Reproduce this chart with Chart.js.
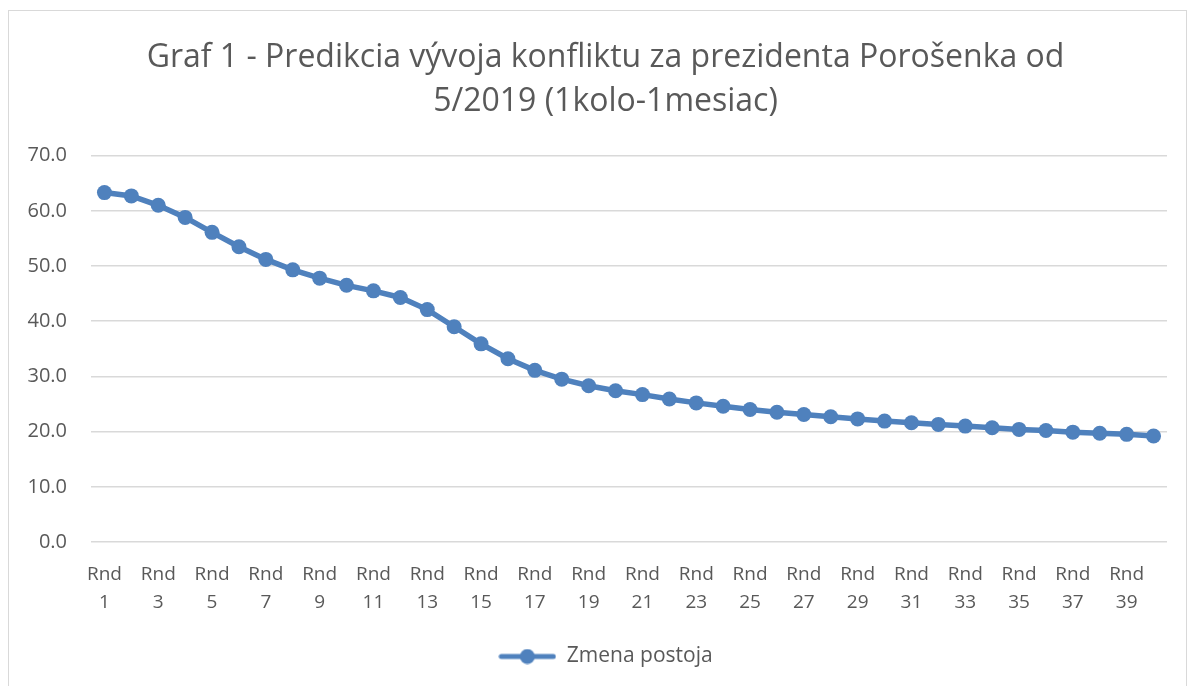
<!DOCTYPE html>
<html>
<head>
<meta charset="utf-8">
<script src="https://cdn.jsdelivr.net/npm/chart.js@4/dist/chart.umd.min.js"></script>
<style>
    html, body { margin: 0; padding: 0; background: #fff; }
    #wrap { position: relative; width: 1190px; height: 686px; overflow: hidden; }
    #frame { position: absolute; left: 8px; top: 10px; width: 1179px; height: 700px; border: 1px solid #d9d9d9; box-sizing: border-box; }
    #chart { position: absolute; left: 0; top: 0; }
</style>
</head>
<body>
<div id="wrap">
    <div id="frame"></div>
    <canvas id="chart" width="1190" height="686"></canvas>
</div>
<script>
const titleLines = ['Graf 1 - Predikcia vývoja konfliktu za prezidenta Porošenka od', '5/2019 (1kolo-1mesiac)'];
const seriesName = 'Zmena postoja';

const categories = [
    'Rnd 1', 'Rnd 2', 'Rnd 3', 'Rnd 4', 'Rnd 5', 'Rnd 6', 'Rnd 7', 'Rnd 8', 'Rnd 9', 'Rnd 10',
    'Rnd 11', 'Rnd 12', 'Rnd 13', 'Rnd 14', 'Rnd 15', 'Rnd 16', 'Rnd 17', 'Rnd 18', 'Rnd 19', 'Rnd 20',
    'Rnd 21', 'Rnd 22', 'Rnd 23', 'Rnd 24', 'Rnd 25', 'Rnd 26', 'Rnd 27', 'Rnd 28', 'Rnd 29', 'Rnd 30',
    'Rnd 31', 'Rnd 32', 'Rnd 33', 'Rnd 34', 'Rnd 35', 'Rnd 36', 'Rnd 37', 'Rnd 38', 'Rnd 39', 'Rnd 40'
];

const values = [
    63.3, 62.7, 61.0, 58.8, 56.1, 53.5, 51.2, 49.3, 47.8, 46.5,
    45.5, 44.3, 42.1, 39.0, 35.9, 33.2, 31.1, 29.5, 28.3, 27.4,
    26.7, 25.9, 25.2, 24.6, 24.0, 23.5, 23.1, 22.7, 22.3, 21.9,
    21.6, 21.3, 21.0, 20.7, 20.4, 20.2, 19.9, 19.7, 19.5, 19.2
];

const yTicks = [0, 10, 20, 30, 40, 50, 60, 70];

const blue = '#4f81bd';
const textColor = '#595959';
const fontFamily = '"Open Sans", sans-serif';

// legend marker: line with a dot in the middle
const marker = document.createElement('canvas');
marker.width = 58;
marker.height = 16;
(function () {
    const m = marker.getContext('2d');
    m.strokeStyle = blue;
    m.lineWidth = 5;
    m.lineCap = 'round';
    m.beginPath();
    m.moveTo(3, 8);
    m.lineTo(55, 8);
    m.stroke();
    m.fillStyle = blue;
    m.beginPath();
    m.arc(29, 8, 7.5, 0, Math.PI * 2);
    m.fill();
})();

// the original frame runs past the right edge, so title and legend sit a bit right of centre
const shiftTitleLegend = {
    id: 'shiftTitleLegend',
    afterLayout: function (chart) {
        const dx = 22;
        [chart.titleBlock, chart.legend].forEach(function (box) {
            if (box) {
                box.left += dx;
                box.right += dx;
            }
        });
    }
};

const ctx = document.getElementById('chart').getContext('2d');
new Chart(ctx, {
    type: 'line',
    data: {
        labels: categories,
        datasets: [{
            label: seriesName,
            data: values,
            borderColor: blue,
            backgroundColor: blue,
            borderWidth: 5.5,
            pointRadius: 7.5,
            pointBorderWidth: 0,
            pointBackgroundColor: blue,
            tension: 0,
            fill: false
        }]
    },
    plugins: [shiftTitleLegend],
    options: {
        responsive: false,
        animation: false,
        layout: { padding: { left: 0, right: 23, top: 0, bottom: 9 } },
        plugins: {
            tooltip: { enabled: false },
            title: {
                display: true,
                text: titleLines,
                color: textColor,
                font: { family: fontFamily, size: 32, weight: 'normal', lineHeight: 1.4 },
                padding: { top: 35, bottom: 31 }
            },
            legend: {
                display: true,
                position: 'bottom',
                labels: {
                    usePointStyle: true,
                    pointStyle: marker,
                    pointStyleWidth: 58,
                    boxHeight: 16,
                    color: textColor,
                    font: { family: fontFamily, size: 21 },
                    padding: 14
                }
            }
        },
        scales: {
            x: {
                offset: true,
                grid: { display: false },
                border: { display: false },
                ticks: {
                    autoSkip: false,
                    maxRotation: 0,
                    minRotation: 0,
                    color: textColor,
                    font: { family: fontFamily, size: 19, lineHeight: 1.45 },
                    padding: 11,
                    callback: function (value, index) {
                        if (index % 2 !== 0) return null;
                        return categories[index].split(' ');
                    }
                },
                afterFit: function (scale) { scale.height = 90; }
            },
            y: {
                min: 0,
                max: 70,
                afterBuildTicks: function (scale) {
                    scale.ticks = yTicks.map(v => ({ value: v }));
                },
                grid: { color: '#d9d9d9', lineWidth: 1.5, drawTicks: false },
                border: { display: false },
                ticks: {
                    color: textColor,
                    font: { family: fontFamily, size: 20 },
                    padding: 24,
                    callback: function (value) { return Number(value).toFixed(1); }
                },
                afterFit: function (scale) { scale.width = 91; }
            }
        }
    }
});
</script>
</body>
</html>
